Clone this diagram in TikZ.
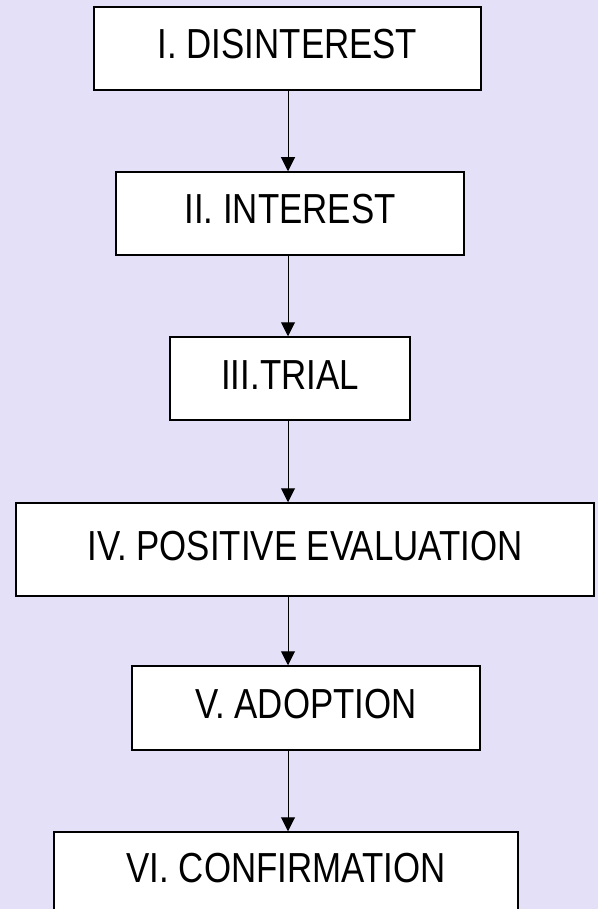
\documentclass[tikz,border=0pt]{standalone}
\usepackage{fontspec}
\usepackage{xcolor}
\usepackage{tikz}
\usetikzlibrary{arrows.meta, positioning, calc}
\newfontfamily\stagefont{Liberation Sans}[FakeStretch=0.83]
\definecolor{lavender}{RGB}{228,224,248}

\begin{document}
\begin{tikzpicture}[
		x=1pt, y=-1pt,
		font=\stagefont\fontsize{42}{48}\selectfont,
		stage/.style={draw, line width=1.5pt, fill=white, inner sep=0pt,
			text height=30pt, text depth=9pt},
		flow/.style={-{Triangle[width=14pt, length=14pt]}, line width=1pt}
		]
		
		% Canvas
		\useasboundingbox (0,0) rectangle (598,909);
		\fill[lavender] (0,0) rectangle (598,909);
		
		% Stages
		\node[stage, minimum width=387pt, minimum height=83pt] (dis) at (287.5,48.5) {I. DISINTEREST};
		\node[stage, minimum width=348pt, minimum height=83pt] (int) at (290,213.5) {II. INTEREST};
		\node[stage, minimum width=240pt, minimum height=83pt] (tri) at (290,378.5) {III.TRIAL};
		\node[stage, minimum width=578pt, minimum height=93pt] (pos) at (305,549.5) {IV. POSITIVE EVALUATION};
		\node[stage, minimum width=348pt, minimum height=84pt] (ado) at (306,708) {V. ADOPTION};
		\node[stage, minimum width=464pt, minimum height=80pt] (con) at (286,872) {VI. CONFIRMATION};
		
		% Arrows down the middle
		\coordinate (axis) at (288,0);
		\draw[flow] (dis.south -| axis) -- (int.north -| axis);
		\draw[flow] (int.south -| axis) -- (tri.north -| axis);
		\draw[flow] (tri.south -| axis) -- (pos.north -| axis);
		\draw[flow] (pos.south -| axis) -- (ado.north -| axis);
		\draw[flow] (ado.south -| axis) -- (con.north -| axis);
		
	\end{tikzpicture}
\end{document}
